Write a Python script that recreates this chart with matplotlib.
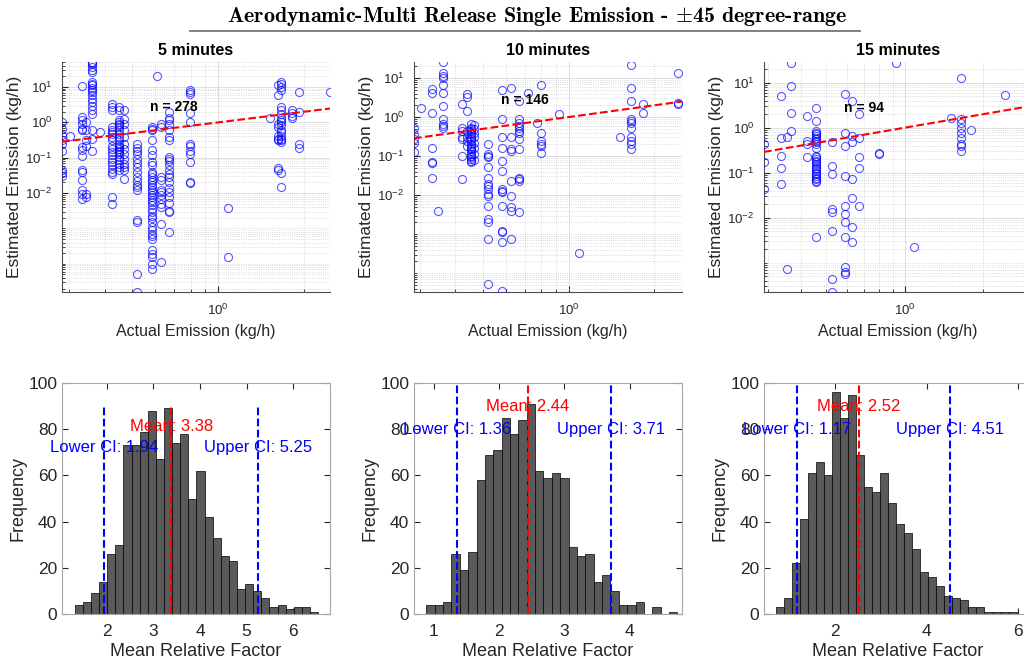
"""
Aerodynamic multi-release, single-emission results (+/-45 degree range).
Top row: estimated vs actual emission for 5, 10 and 15 minute windows.
Bottom row: bootstrap distributions of the mean relative factor.
"""

import numpy as np
import matplotlib
matplotlib.use("Agg")
import matplotlib.pyplot as plt
from matplotlib.ticker import FixedLocator, LogLocator, NullFormatter
from matplotlib.lines import Line2D

plt.rcParams["font.family"] = ["Liberation Sans", "DejaVu Sans"]
plt.rcParams["mathtext.fontset"] = "cm"

TXT = (0.15, 0.15, 0.15)

# ─── Scatter data: actual release rate (kg/h) and the estimates at each rate ───

ACT_5 = [0.284, 0.303, 0.332, 0.343, 0.36, 0.385, 0.423, 0.45, 0.467, 0.517,
         0.586, 0.608, 0.628, 0.671, 0.796, 1.084, 1.517, 1.62, 1.66, 1.82,
         1.92, 2.47]
EST_5 = [
    [1.0, 0.66, 0.43, 0.31, 0.25, 0.16, 0.044, 0.037, 0.031],
    [0.42],
    [11, 1.4, 1.2, 0.92, 0.66, 0.59, 0.2, 0.17, 0.11, 0.045, 0.039, 0.023,
     0.012, 0.0093, 0.007],
    [1.0, 0.59, 0.31, 0.22, 0.0096, 0.0077],
    [50, 47, 44, 37, 31, 27, 13.9, 12.4, 11.1, 9.5, 8.5, 7.2, 5.8, 4.7, 3.8,
     3.0, 2.2, 1.76, 0.59, 0.35, 0.16],
    [0.53],
    [3.3, 2.7, 2.2, 0.74, 0.59, 0.53, 0.46, 0.38, 0.31, 0.22, 0.18, 0.145,
     0.116, 0.094, 0.075, 0.061, 0.049, 0.039, 0.035, 0.0077, 0.005],
    [2.7, 2.2, 1.14, 1.02, 0.92, 0.82, 0.74, 0.59, 0.48, 0.38, 0.31, 0.25,
     0.22, 0.2, 0.18, 0.16, 0.145, 0.13, 0.104, 0.084, 0.068, 0.054, 0.044],
    [2.3, 1.27, 0.92, 0.59, 0.38, 0.25, 0.18, 0.13, 0.094, 0.068, 0.054,
     0.044, 0.025],
    [0.25, 0.19, 0.155, 0.125, 0.094, 0.072, 0.054, 0.039, 0.028, 0.022,
     0.017, 0.015, 0.012, 0.0017, 0.0015, 5.2e-5, 1.6e-5],
    [0.72, 0.66, 0.59, 0.31, 0.17, 0.116, 0.075, 0.061, 0.039, 0.034, 0.028,
     0.024, 0.020, 0.017, 0.015, 0.0125, 0.011, 0.0091, 0.0077, 0.0066,
     0.0056, 0.0045, 0.0036, 0.0029, 0.0023, 0.002, 0.0015, 0.0011, 8.8e-4,
     7.1e-4, 6.0e-4, 5.1e-4, 2.4e-4, 1.9e-4, 1.55e-4, 1.0e-4, 7.2e-5],
    [20],
    [0.88, 0.74, 0.028, 0.024, 0.0125, 0.011, 0.0086, 0.0069, 0.005, 0.004,
     0.00135, 1.1e-4],
    [2.0, 1.36, 1.14, 0.88, 0.59, 0.38, 0.31, 0.104, 0.094, 0.08, 0.061,
     0.046, 0.034, 0.028, 0.020, 0.014, 0.0105, 0.0077, 0.0052, 0.0032,
     0.0029, 7.9e-4],
    [8.0, 7.1, 6.2, 1.84, 1.0, 0.25, 0.22, 0.16, 0.13, 0.075, 0.020, 0.019],
    [0.0039, 1.55e-4],
    [1.36],
    [11.1, 5.8, 0.92, 0.74, 0.4, 0.345, 0.31, 0.052, 0.044],
    [12.4, 13.9, 10, 8, 2.7, 2.2, 1.76, 1.36, 1.14, 1.02, 0.82, 0.59, 0.53,
     0.4, 0.345, 0.31, 0.28, 0.037, 0.015],
    [2.2, 1.9, 1.55, 1.36],
    [7.2, 2.0, 0.24, 0.19],
    [7.2],
]

ACT_10 = [0.286, 0.302, 0.33, 0.346, 0.363, 0.421, 0.438, 0.455, 0.465, 0.52,
          0.585, 0.625, 0.669, 0.717, 0.775, 0.797, 0.926, 1.083, 1.52, 1.65,
          1.82, 2.42]
EST_10 = [
    [0.53, 0.36, 0.27, 0.22, 0.13],
    [1.66],
    [5.1, 4.2, 1.29, 0.165, 0.071, 0.065, 0.027],
    [0.004],
    [25, 13.5, 11.1, 10, 6.8, 4.2, 1.9, 0.87, 0.65, 0.59, 0.51],
    [2.1, 0.53, 0.44, 0.3, 0.27, 0.101, 0.026],
    [3.8, 3.2, 1.42, 0.44, 0.3, 0.245, 0.18],
    [0.65, 0.53, 0.485, 0.44, 0.40, 0.36, 0.30, 0.27, 0.245, 0.20, 0.18,
     0.165, 0.15, 0.136, 0.112, 0.101, 0.092, 0.083, 0.076, 0.069],
    [0.63, 0.485, 0.40, 0.31, 0.22, 0.16, 0.116, 0.078],
    [0.2, 0.112, 0.101, 0.092, 0.051, 0.028, 0.019, 0.017, 0.014, 0.0107,
     0.0097, 0.0054, 0.0025, 0.002, 7.6e-4, 5.4e-5],
    [4.8, 0.87, 0.3, 0.165, 0.076, 0.042, 0.014, 0.013, 0.012, 0.0054,
     0.00124, 0.00113, 6.3e-4, 3.4e-5],
    [5.4, 0.3, 0.15, 0.136, 0.023, 0.0097, 0.0049, 0.004, 7.6e-4],
    [2.6, 0.87, 0.72, 0.59, 0.53, 0.44, 0.40, 0.27, 0.15, 0.028, 0.026,
     0.023, 0.0036],
    [4.2],
    [0.72],
    [6.5, 0.40, 0.245, 0.20, 0.18, 0.123],
    [1.17],
    [3.2e-4],
    [0.30],
    [22, 5.6, 2.6, 0.87, 0.79, 0.72, 0.53, 0.30, 0.245, 0.20, 0.15],
    [2.1, 1.29],
    [13.5, 2.3, 2.1],
]

ACT_15 = [0.291, 0.337, 0.354, 0.368, 0.424, 0.46, 0.528, 0.59, 0.63, 0.672,
          0.796, 0.93, 1.083, 1.503, 1.64, 1.79, 2.42]
EST_15 = [
    [0.43, 0.17, 0.043],
    [5.0, 0.60, 0.24, 0.13, 0.056],
    [0.62, 7.4e-4],
    [27, 8.3, 2.1, 0.84],
    [1.81, 0.51, 0.43, 0.22],
    [2.8, 1.40, 0.84, 0.78, 0.71, 0.65, 0.60, 0.55, 0.51, 0.47, 0.43, 0.36,
     0.24, 0.22, 0.20, 0.18, 0.17, 0.155, 0.142, 0.13, 0.12, 0.11, 0.101,
     0.093, 0.085, 0.078, 0.072, 0.066, 0.061, 0.0037],
    [0.47, 0.142, 0.093, 0.0157, 0.0132, 0.0052, 4.4e-4, 2.25e-4],
    [5.5, 0.78, 0.39, 0.085, 0.0185, 0.0121, 0.0079, 0.0037, 8.0e-4,
     6.2e-4, 5.7e-4],
    [3.9, 0.65, 0.47, 0.072, 0.028, 0.0062, 0.0029],
    [1.97, 0.60, 0.22, 0.126, 0.0185],
    [0.28, 0.26],
    [28],
    [0.0022],
    [1.66],
    [12.7, 1.53, 1.29, 1.0, 0.78, 0.60, 0.43, 0.39, 0.30],
    [0.87],
    [5.2],
]

WINDOWS   = ["5 minutes", "10 minutes", "15 minutes"]
N_RUNS    = [278, 146, 94]
SC_XLIM   = [(0.283, 2.47), (0.286, 2.5), (0.29, 3.07)]
SC_YLIM   = [(1.6e-5, 51), (3.3e-5, 25.7), (2.25e-4, 28.8)]

# ─── Bootstrap histograms of the mean relative factor ────────────────────────

COUNTS_5  = [4, 5, 9, 14, 26, 30, 73, 73, 79, 88, 67, 89, 74, 78, 50, 62, 42,
             33, 25, 23, 11, 13, 10, 7, 3, 4, 2, 3, 3, 1]
COUNTS_10 = [4, 4, 5, 26, 19, 27, 58, 69, 71, 85, 78, 84, 91, 62, 59, 61, 59,
             29, 25, 26, 14, 17, 10, 4, 4, 5, 0, 3, 0, 1]
COUNTS_15 = [3, 7, 22, 41, 61, 66, 60, 96, 85, 95, 69, 55, 53, 61, 48, 39, 35,
             28, 18, 16, 12, 8, 7, 6, 3, 3, 1, 1, 1, 1]
BIN_START = [1.315, 0.889, 0.713]
BIN_WIDTH = [0.174, 0.128, 0.175]

MEAN_RF   = [3.38, 2.44, 2.52]
LOWER_CI  = [1.94, 1.36, 1.17]
UPPER_CI  = [5.25, 3.71, 4.51]
LINE_TOP  = [90, 100, 100]
H_XLIM    = [(1.04, 6.79), (0.70, 4.8), (0.45, 6.3)]
H_XTICKS  = [[2, 3, 4, 5, 6], [1, 2, 3, 4], [2, 4, 6]]


def draw_scatter(ax, act, est, xlim, ylim, n, title):
    x = np.repeat(act, [len(e) for e in est])
    y = np.concatenate([np.asarray(e, float) for e in est])
    ax.plot(x, y, "o", ls="none", mfc="none", mec=(0, 0, 1, 0.65),
            ms=5.8, mew=0.8, zorder=3)
    ax.plot(xlim, xlim, "--", color="red", lw=1.5, zorder=4)
    ax.set_xscale("log")
    ax.set_yscale("log")
    ax.set_xlim(xlim)
    ax.set_ylim(ylim)

    ax.xaxis.set_major_locator(FixedLocator([1.0]))
    ax.xaxis.set_minor_locator(LogLocator(base=10, subs=np.arange(2, 10), numticks=20))
    ax.xaxis.set_minor_formatter(NullFormatter())
    ax.yaxis.set_major_locator(FixedLocator([1e-2, 1e-1, 1.0, 10.0]))
    ax.yaxis.set_minor_locator(LogLocator(base=10, subs=np.arange(1, 10), numticks=20))
    ax.yaxis.set_minor_formatter(NullFormatter())

    ax.grid(True, which="major", color="0.85", lw=0.6)
    ax.grid(True, which="minor", color="0.82", ls=":", lw=0.6)
    ax.tick_params(which="both", direction="in", colors=TXT, labelsize=9.5)
    ax.tick_params(which="major", length=4)
    ax.tick_params(which="minor", length=2)
    ax.tick_params(axis="x", which="major", pad=8)
    ax.tick_params(axis="y", which="major", pad=7)
    for side in ("top", "right"):
        ax.spines[side].set_visible(False)
    for side in ("left", "bottom"):
        ax.spines[side].set_color("0.3")

    ax.text(0.70, 2.7, f"n = {n}", fontsize=10, fontweight="bold",
            ha="center", va="center", zorder=5)
    ax.set_title(title, fontsize=11.5, fontweight="bold", pad=5)
    ax.set_xlabel("Actual Emission (kg/h)", fontsize=11.5, color=TXT, labelpad=4)
    ax.set_ylabel("Estimated Emission (kg/h)", fontsize=12.5, color=TXT, labelpad=2)


def draw_hist(ax, counts, start, width, mean, lo, hi, top, xlim, xticks):
    edges = start + width * np.arange(len(counts))
    ax.bar(edges, counts, width=width, align="edge", color="#5a5a5a",
           edgecolor="black", linewidth=0.5, zorder=2)
    ax.plot([mean, mean], [0, top], "--", color="red", lw=1.5, zorder=3)
    ax.plot([lo, lo], [0, top], "--", color="blue", lw=1.5, zorder=3)
    ax.plot([hi, hi], [0, top], "--", color="blue", lw=1.5, zorder=3)

    ax.text(mean, 0.9 * top, f"Mean: {mean:.2f}", color="red", fontsize=12,
            ha="center", va="center", zorder=4)
    ax.text(lo, 0.8 * top, f"Lower CI: {lo:.2f}", color="blue", fontsize=12,
            ha="center", va="center", zorder=4)
    ax.text(hi, 0.8 * top, f"Upper CI: {hi:.2f}", color="blue", fontsize=12,
            ha="center", va="center", zorder=4)

    ax.set_xlim(xlim)
    ax.set_ylim(0, 100)
    ax.set_xticks(xticks)
    ax.set_yticks(range(0, 101, 20))
    ax.tick_params(direction="in", top=True, right=True, colors=TXT,
                   labelsize=12.5, length=4)
    ax.tick_params(axis="x", pad=7)
    for sp in ax.spines.values():
        sp.set_color("0.65")
    ax.set_xlabel("Mean Relative Factor", fontsize=13, color=TXT, labelpad=3)
    ax.set_ylabel("Frequency", fontsize=13, color=TXT, labelpad=1)


fig = plt.figure(figsize=(10.24, 6.64), dpi=100)

lefts = [62 / 1024, 414 / 1024, 764 / 1024]
w = 268 / 1024
sc_axes = [fig.add_axes([l, 1 - 292 / 664, w, 230 / 664]) for l in lefts]
h_axes = [fig.add_axes([l, 1 - 614 / 664, w, 231 / 664]) for l in lefts]

for i, (act, est) in enumerate([(ACT_5, EST_5), (ACT_10, EST_10), (ACT_15, EST_15)]):
    draw_scatter(sc_axes[i], act, est, SC_XLIM[i], SC_YLIM[i], N_RUNS[i], WINDOWS[i])

for i, counts in enumerate([COUNTS_5, COUNTS_10, COUNTS_15]):
    draw_hist(h_axes[i], counts, BIN_START[i], BIN_WIDTH[i], MEAN_RF[i],
              LOWER_CI[i], UPPER_CI[i], LINE_TOP[i], H_XLIM[i], H_XTICKS[i])

fig.text(0.524, 1 - 17 / 664,
         r"Aerodynamic-Multi Release Single Emission - $\pm$45 degree-range",
         family="cmb10", fontsize=15.8, ha="center", va="center")
fig.add_artist(Line2D([190 / 1024, 860 / 1024], [1 - 31 / 664, 1 - 31 / 664],
                      transform=fig.transFigure, color="0.5", lw=1.4))

fig.savefig("out.png", dpi=100)
